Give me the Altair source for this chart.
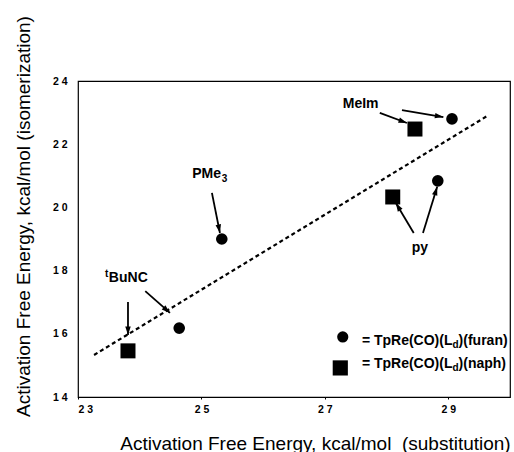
import math
import altair as alt
import pandas as pd

FONT = "Liberation Sans"

# ---- data ----
furan_x = [29.06, 28.83, 25.33, 24.64]
furan_y = [22.80, 20.84, 19.00, 16.18]
furan_lig = ["MeIm", "py", "PMe3", "tBuNC"]

naph_x = [28.46, 28.10, 23.81]
naph_y = [22.48, 20.33, 15.46]
naph_lig = ["MeIm", "py", "tBuNC"]

fit_x = [23.26, 29.62]
fit_y = [15.33, 22.88]

x_ticks = [23, 25, 27, 29]
y_ticks = [14, 16, 18, 20, 22, 24]

# arrows (start -> tip), data coordinates
arr_x1 = [28.25, 27.89, 28.44, 28.59, 25.17, 24.09, 23.81]
arr_y1 = [23.08, 22.99, 19.19, 19.19, 20.46, 17.35, 17.01]
arr_x2 = [28.92, 28.33, 28.15, 28.82, 25.30, 24.49, 23.81]
arr_y2 = [22.86, 22.67, 20.14, 20.65, 19.19, 16.66, 15.96]

W, H = 432, 316
XD, YD = [23, 30], [14, 24]

xs = alt.Scale(domain=XD, nice=False, zero=False)
ys = alt.Scale(domain=YD, nice=False, zero=False)

lab_expr = "slice(datum.label,0,1)+' '+slice(datum.label,1)"

X = alt.X("x:Q", scale=xs, axis=alt.Axis(
    values=x_ticks, title="Activation Free Energy, kcal/mol\u00a0 (substitution)",
    grid=False, domain=False, ticks=True, tickSize=2, tickColor="black",
    labelFont=FONT, labelFontSize=10.5, labelFontWeight="bold", labelColor="black",
    labelPadding=5, labelFlush=True, labelExpr=lab_expr,
    titleFont=FONT, titleFontSize=19, titleFontWeight="normal", titleColor="black",
    titleX=237, titleY=52, titleBaseline="alphabetic", titleAlign="center"))
Y = alt.Y("y:Q", scale=ys, axis=alt.Axis(
    values=y_ticks, title="Activation Free Energy, kcal/mol (isomerization)",
    grid=False, domain=False, ticks=False,
    labelFont=FONT, labelFontSize=10.5, labelFontWeight="bold", labelColor="black",
    labelPadding=11, labelExpr=lab_expr,
    titleFont=FONT, titleFontSize=19, titleFontWeight="normal", titleColor="black",
    titleX=-49, titleY=135, titleAngle=270, titleBaseline="alphabetic",
    titleAlign="center"))

fit_df = pd.DataFrame({"x": fit_x, "y": fit_y})
fit = alt.Chart(fit_df).mark_line(color="black", strokeWidth=2.2,
                                  strokeDash=[4, 3]).encode(x=X, y=Y)

fur_df = pd.DataFrame({"x": furan_x, "y": furan_y, "lig": furan_lig})
circles = alt.Chart(fur_df).mark_point(shape="circle", filled=True, size=135,
                                       color="black", opacity=1).encode(x=X, y=Y)

nap_df = pd.DataFrame({"x": naph_x, "y": naph_y, "lig": naph_lig})
squares = alt.Chart(nap_df).mark_point(shape="square", filled=True, size=225,
                                       color="black", opacity=1).encode(x=X, y=Y)

# arrows
px_x = W / (XD[1] - XD[0])
px_y = H / (YD[1] - YD[0])
angles = []
for a, b, c, d in zip(arr_x1, arr_y1, arr_x2, arr_y2):
    dxp = (c - a) * px_x
    dyp = -(d - b) * px_y
    angles.append(math.degrees(math.atan2(dxp, -dyp)) % 360)
arr_df = pd.DataFrame({"x": arr_x1, "y": arr_y1, "x2": arr_x2, "y2": arr_y2})
shafts = alt.Chart(arr_df).mark_rule(color="black", strokeWidth=1.8).encode(
    x=X, y=Y, x2="x2:Q", y2="y2:Q")
head_df = pd.DataFrame({"x": arr_x2, "y": arr_y2, "ang": angles})
heads = alt.Chart(head_df).mark_point(
    shape="M0,0L-0.55,1.7L0.55,1.7Z", filled=True, size=100, color="black",
    opacity=1).encode(x=X, y=Y, angle=alt.Angle("ang:Q", scale=None))


def txt(x, y, s, size=14, dx=0, dy=0, align="left"):
    df = pd.DataFrame({"x": [x], "y": [y], "t": [s]})
    return alt.Chart(df).mark_text(
        align=align, baseline="alphabetic", dx=dx, dy=dy, fontSize=size,
        fontWeight="bold", font=FONT, color="black").encode(x=X, y=Y, text="t:N")


labels = [
    txt(27.29, 23.15, "MeIm"),
    txt(28.54, 18.59, "py", align="center"),
    txt(24.85, 20.93, "PMe"),
    txt(24.85, 20.93, "3", size=10, dx=29.5, dy=4),
    txt(23.50, 17.64, "BuNC"),
    txt(23.50, 17.64, "t", size=10, dx=-0.5, dy=-5, align="right"),
]

# legend
leg_c = alt.Chart(pd.DataFrame({"x": [27.29], "y": [15.90]})).mark_point(
    shape="circle", filled=True, size=125, color="black", opacity=1).encode(x=X, y=Y)
leg_s = alt.Chart(pd.DataFrame({"x": [27.25], "y": [14.92]})).mark_point(
    shape="square", filled=True, size=230, color="black", opacity=1).encode(x=X, y=Y)

w1 = 6472 * 14 / 1000.0
w2 = 611 * 10 / 1000.0
leg_txt = []
for yy, tail in [(15.65, ")(furan)"), (14.92, ")(naph)")]:
    leg_txt.append(txt(27.60, yy, "= TpRe(CO)(L"))
    leg_txt.append(txt(27.60, yy, "d", size=10, dx=w1, dy=3))
    leg_txt.append(txt(27.60, yy, tail, dx=w1 + w2))

chart = alt.layer(fit, shafts, heads, circles, squares, leg_c, leg_s,
                  *labels, *leg_txt).properties(
    width=W, height=H,
    autosize=alt.AutoSizeParams(type="none"),
    padding={"left": 78, "top": 81, "right": 4, "bottom": 55},
    background="white",
).configure_view(stroke="black", strokeWidth=1.2)

chart.save("out.html", embed_options={"renderer": "svg", "actions": False})
